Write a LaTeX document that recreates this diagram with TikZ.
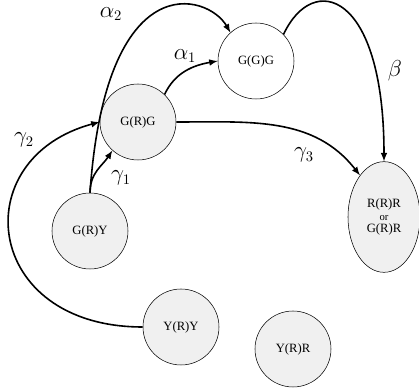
\documentclass[tikz,border=0pt]{standalone}
\usepackage{amsmath,amssymb}
\usepackage{fontspec}
\setmainfont{Liberation Serif}
\usetikzlibrary{arrows,shapes}

\tikzset{
  state/.style={ellipse, draw, thin, fill=black!6, inner sep=0pt,
    minimum width=57pt, minimum height=57pt,
    font=\fontsize{9.5}{9.2}\selectfont},
  trans/.style={->, >=latex, line width=1.2pt},
  lbl/.style={font=\fontsize{16}{16}\selectfont, inner sep=0pt}
}

\begin{document}
\begin{tikzpicture}[x=0.75pt,y=0.75pt]
      \useasboundingbox (0,0) rectangle (419,389);

      \node[state,fill=white] (ggg) at (256,328) {G(G)G};
      \node[state] (grg) at (138,267) {G(R)G};
      \node[state] (gry) at (90,158) {G(R)Y};
      \node[state] (yry) at (181,62) {Y(R)Y};
      \node[state] (yrr) at (293,40) {Y(R)R};
      \node[state,minimum width=54pt,minimum height=83pt,align=center] (rrr) at (384,172)
        {R(R)R\\{\fontsize{8}{9.2}\selectfont or}\\G(R)R};

      \draw[trans] (gry.north) .. controls +(86:230) and +(120:45) .. (ggg.132);
      \draw[trans] (gry.north) .. controls +(90:20) and +(237:18) .. (grg.228);
      \draw[trans] (grg.46) to[out=65,in=190] (ggg.west);
      \draw[trans] (grg.east) to[out=0,in=128] (rrr.120);
      \draw[trans] (ggg.44) .. controls +(65:70) and +(90:170) .. (rrr.north);
      \draw[trans] (yry.west) .. controls +(180:160) and +(195:140) .. (grg.west);

      \node[lbl] (la2) at (111,375) {$\alpha_2$};
      \node[lbl] (la1) at (185,333) {$\alpha_1$};
      \node[lbl] (lb) at (395,318) {$\beta$};
      \node[lbl] (lg2) at (24,249) {$\gamma_2$};
      \node[lbl] (lg1) at (121,211) {$\gamma_1$};
      \node[lbl] (lg3) at (304,234) {$\gamma_3$};
\end{tikzpicture}
\end{document}
